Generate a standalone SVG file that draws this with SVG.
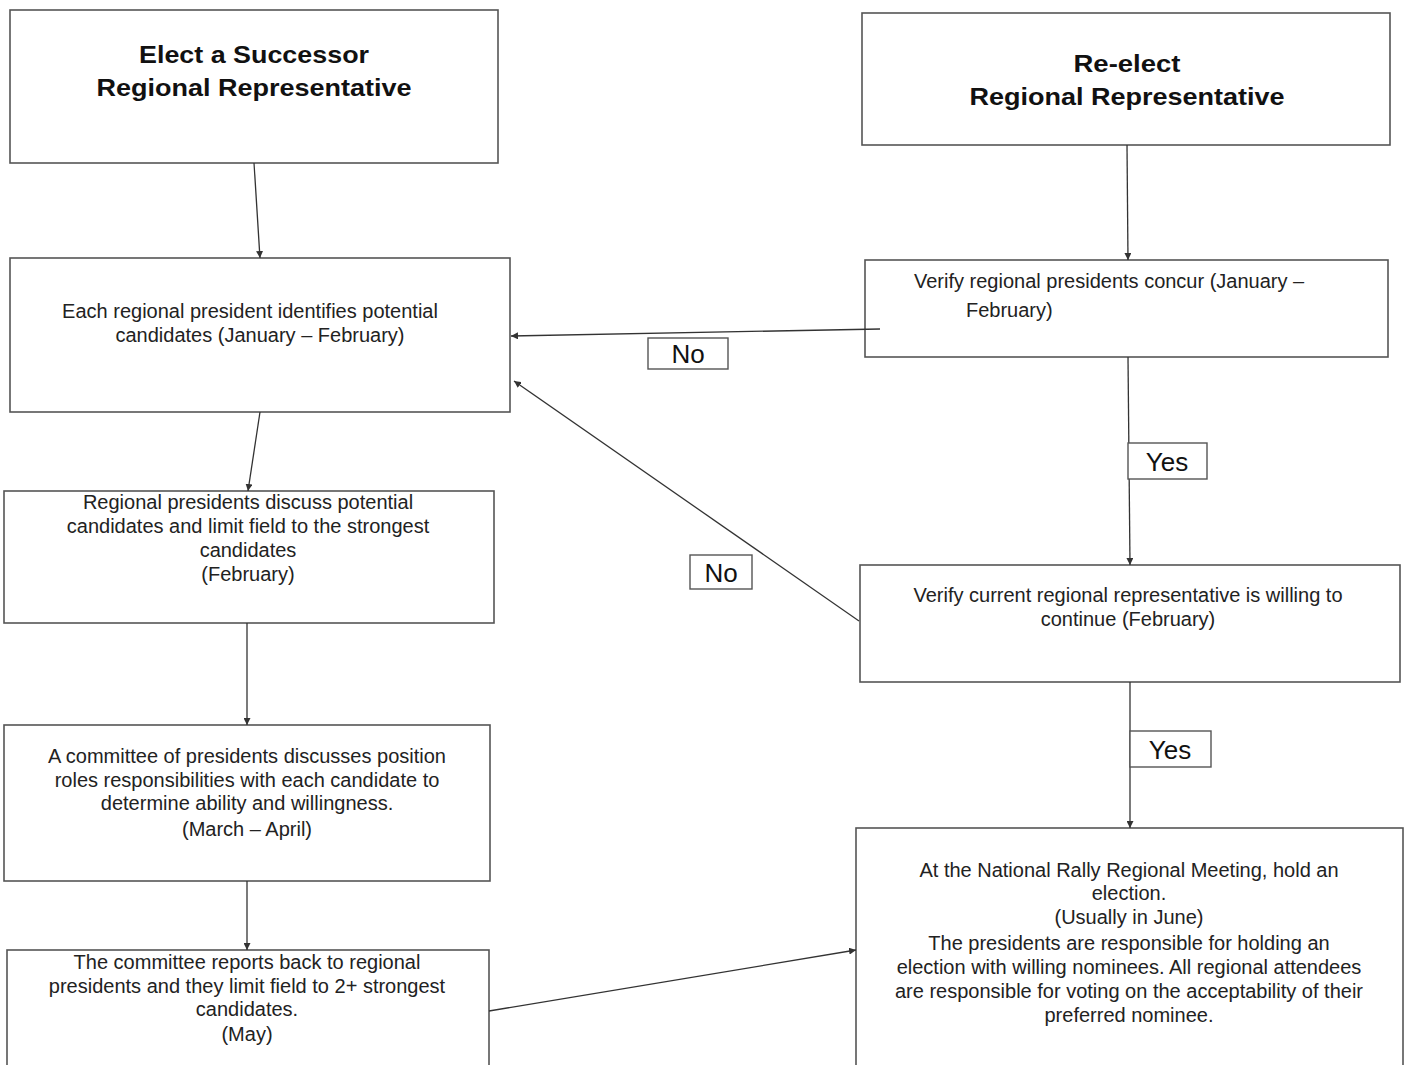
<svg xmlns="http://www.w3.org/2000/svg" width="1405" height="1065" viewBox="0 0 1405 1065">
<defs>
<style>
.box{fill:#fff;stroke:#555;stroke-width:1.6}
.lbl{fill:#fff;stroke:#555;stroke-width:1.4}
.title{font-family:"Liberation Sans",Arial,sans-serif;font-size:24px;font-weight:bold;fill:#111;text-anchor:middle}
.t{font-family:"Liberation Sans",Arial,sans-serif;font-size:20px;fill:#222;text-anchor:middle}
.tl{font-family:"Liberation Sans",Arial,sans-serif;font-size:20px;fill:#222}
.yn{font-family:"Liberation Sans",Arial,sans-serif;font-size:26px;fill:#111;text-anchor:middle}
.c{stroke:#333;stroke-width:1.3;fill:none;marker-end:url(#ah)}
</style>
<marker id="ah" viewBox="0 0 10 10" refX="10" refY="5" markerWidth="7" markerHeight="7" markerUnits="userSpaceOnUse" orient="auto">
<path d="M0,0 L10,5 L0,10 z" fill="#333"/>
</marker>
</defs>
<rect width="1405" height="1065" fill="#fff"/>

<g id="n1">
<rect class="box" x="10" y="10" width="488" height="153"/>
<text class="title" x="254" y="63" textLength="230" lengthAdjust="spacingAndGlyphs">Elect a Successor</text>
<text class="title" x="254" y="96" textLength="315" lengthAdjust="spacingAndGlyphs">Regional Representative</text>
</g>
<g id="n2">
<rect class="box" x="862" y="13" width="528" height="132"/>
<text class="title" x="1127" y="72" textLength="107" lengthAdjust="spacingAndGlyphs">Re-elect</text>
<text class="title" x="1127" y="105" textLength="315" lengthAdjust="spacingAndGlyphs">Regional Representative</text>
</g>
<g id="n3">
<rect class="box" x="10" y="258" width="500" height="154"/>
<text class="t" x="250" y="318">Each regional president identifies potential</text>
<text class="t" x="260" y="342">candidates (January – February)</text>
</g>
<g id="n4">
<rect class="box" x="865" y="260" width="523" height="97"/>
<text class="tl" x="914" y="288">Verify regional presidents concur (January –</text>
<text class="tl" x="966" y="317">February)</text>
</g>
<g id="n5">
<rect class="box" x="4" y="491" width="490" height="132"/>
<text class="t" x="248" y="509">Regional presidents discuss potential</text>
<text class="t" x="248" y="533">candidates and limit field to the strongest</text>
<text class="t" x="248" y="557">candidates</text>
<text class="t" x="248" y="581">(February)</text>
</g>
<g id="n6">
<rect class="box" x="4" y="725" width="486" height="156"/>
<text class="t" x="247" y="763">A committee of presidents discusses position</text>
<text class="t" x="247" y="787">roles responsibilities with each candidate to</text>
<text class="t" x="247" y="810">determine ability and willingness.</text>
<text class="t" x="247" y="836">(March – April)</text>
</g>
<g id="n7">
<rect class="box" x="7" y="950" width="482" height="130"/>
<text class="t" x="247" y="969">The committee reports back to regional</text>
<text class="t" x="247" y="993">presidents and they limit field to 2+ strongest</text>
<text class="t" x="247" y="1016">candidates.</text>
<text class="t" x="247" y="1041">(May)</text>
</g>
<g id="n8">
<rect class="box" x="860" y="565" width="540" height="117"/>
<text class="t" x="1128" y="602">Verify current regional representative is willing to</text>
<text class="t" x="1128" y="626">continue (February)</text>
</g>
<g id="n9">
<rect class="box" x="856" y="828" width="547" height="250"/>
<text class="t" x="1129" y="877">At the National Rally Regional Meeting, hold an</text>
<text class="t" x="1129" y="900">election.</text>
<text class="t" x="1129" y="924">(Usually in June)</text>
<text class="t" x="1129" y="950">The presidents are responsible for holding an</text>
<text class="t" x="1129" y="974">election with willing nominees. All regional attendees</text>
<text class="t" x="1129" y="998">are responsible for voting on the acceptability of their</text>
<text class="t" x="1129" y="1022">preferred nominee.</text>
</g>

<g id="connectors">
<line class="c" x1="254" y1="163" x2="260" y2="258"/>
<line class="c" x1="1127" y1="145" x2="1128" y2="260"/>
<line class="c" x1="880" y1="329" x2="511" y2="336"/>
<line class="c" x1="1128" y1="357" x2="1130" y2="565"/>
<line class="c" x1="859" y1="621" x2="514" y2="381"/>
<line class="c" x1="260" y1="412" x2="248" y2="491"/>
<line class="c" x1="247" y1="623" x2="247" y2="725"/>
<line class="c" x1="247" y1="881" x2="247" y2="950"/>
<line class="c" x1="1130" y1="682" x2="1130" y2="828"/>
<line class="c" x1="489" y1="1011" x2="856" y2="950"/>
</g>

<g id="labels">
<g id="lbl-no1">
<rect class="lbl" x="648" y="338" width="80" height="31"/>
<text class="yn" x="688" y="363">No</text>
</g>
<g id="lbl-yes1">
<rect class="lbl" x="1128" y="443" width="79" height="36"/>
<text class="yn" x="1167" y="471">Yes</text>
</g>
<g id="lbl-no2">
<rect class="lbl" x="690" y="555" width="62" height="34"/>
<text class="yn" x="721" y="582">No</text>
</g>
<g id="lbl-yes2">
<rect class="lbl" x="1130" y="731" width="81" height="36"/>
<text class="yn" x="1170" y="759">Yes</text>
</g>
</g>
</svg>
